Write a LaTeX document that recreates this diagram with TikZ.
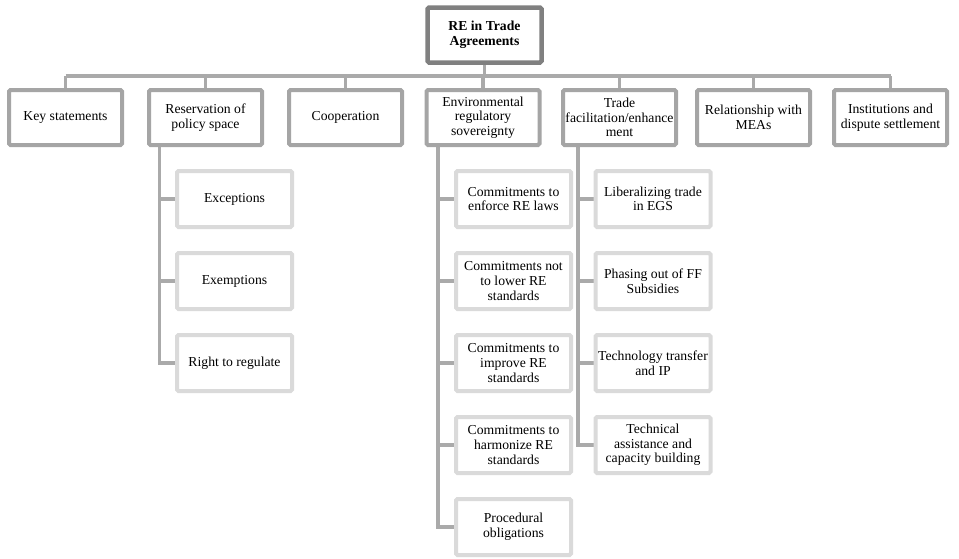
\documentclass[tikz,border=0pt]{standalone}
\usepackage{fontspec}
\setmainfont{Liberation Serif}
\usetikzlibrary{backgrounds}
\begin{document}
\begin{tikzpicture}[x=1pt,y=-1pt,
  every node/.style={font=\fontsize{13.7}{14.6}\selectfont, align=center, inner sep=1pt},
  rootbox/.style={draw=rootgray, line width=4.5pt, fill=white, rounded corners=1.5pt, minimum width=114pt, minimum height=55pt, font=\fontsize{13.7}{14.6}\selectfont\bfseries},
  catbox/.style={draw=catgray, line width=4pt, fill=white, rounded corners=1.5pt, minimum width=113pt, minimum height=55pt},
  subbox/.style={draw=subgray, line width=4pt, fill=white, rounded corners=1.5pt, minimum width=115pt, minimum height=56pt},
  conn/.style={draw=linegray, line width=3.6pt}
]
\definecolor{rootgray}{RGB}{128,128,128}
\definecolor{catgray}{RGB}{165,165,165}
\definecolor{subgray}{RGB}{218,218,218}
\definecolor{linegray}{RGB}{170,170,170}
\useasboundingbox (0,0) rectangle (959,558);

\coordinate (bus) at (0,76);

\node[rootbox] (root) at (484.5,35) {RE in Trade\\Agreements};

\node[catbox] (key) at (65.5,117.5) {Key statements};
\node[catbox] (res) at (205.5,117.5) {Reservation of\\policy space};
\node[catbox] (coop) at (345.5,117.5) {Cooperation};
\node[catbox] (env) at (483,117.5) {Environmental\\regulatory\\sovereignty};
\node[catbox] (trade) at (619.5,117.5) {Trade\\facilitation/enhance\\ment};
\node[catbox] (mea) at (753.5,117.5) {Relationship with\\MEAs};
\node[catbox] (inst) at (890.5,117.5) {Institutions and\\dispute settlement};

\node[subbox] (exc) at (234.5,199) {Exceptions};
\node[subbox] (exm) at (234.5,281) {Exemptions};
\node[subbox] (rtr) at (234.5,363) {Right to regulate};

\node[subbox] (enf) at (513.5,199) {Commitments to\\enforce RE laws};
\node[subbox] (low) at (513.5,281) {Commitments not\\to lower RE\\standards};
\node[subbox] (imp) at (513.5,363) {Commitments to\\improve RE\\standards};
\node[subbox] (har) at (513.5,445) {Commitments to\\harmonize RE\\standards};
\node[subbox] (pro) at (513.5,527) {Procedural\\obligations};

\node[subbox] (lib) at (653,199) {Liberalizing trade\\in EGS};
\node[subbox] (pha) at (653,281) {Phasing out of FF\\Subsidies};
\node[subbox] (tec) at (653,363) {Technology transfer\\and IP};
\node[subbox] (ass) at (653,445) {Technical\\assistance and\\capacity building};

\begin{pgfonlayer}{background}
  \draw[conn] (root.south) -- (root.south |- bus);
  \draw[conn] (key.north |- bus) -- (inst.north |- bus);
  \foreach \n in {key,res,coop,env,trade,mea,inst}
    \draw[conn] (\n.north) -- (\n.north |- bus);
  \coordinate (resv) at ([xshift=-46pt]res.south);
  \foreach \n in {exc,exm,rtr}
    \draw[conn] (resv) |- (\n.west);
  \coordinate (envv) at ([xshift=-45pt]env.south);
  \foreach \n in {enf,low,imp,har,pro}
    \draw[conn] (envv) |- (\n.west);
  \coordinate (tradev) at ([xshift=-41.5pt]trade.south);
  \foreach \n in {lib,pha,tec,ass}
    \draw[conn] (tradev) |- (\n.west);
\end{pgfonlayer}
\end{tikzpicture}
\end{document}
